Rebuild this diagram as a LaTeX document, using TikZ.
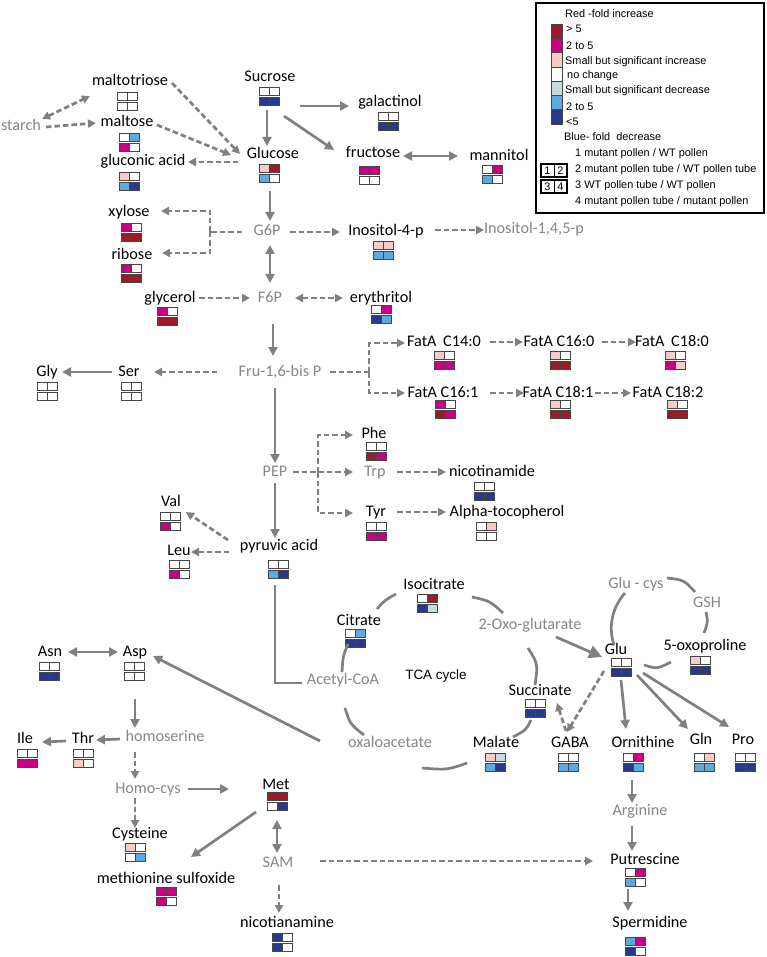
\documentclass[tikz,border=0pt]{standalone}
\usepackage{fontspec}
\setmainfont{Carlito}
\newfontfamily\legfont{Liberation Sans}
\usetikzlibrary{arrows.meta}
\definecolor{dr}{RGB}{155,28,38}
\definecolor{mg}{RGB}{204,0,132}
\definecolor{lp}{RGB}{246,204,198}
\definecolor{w}{RGB}{255,255,255}
\definecolor{lg}{RGB}{198,218,224}
\definecolor{lb}{RGB}{92,170,224}
\definecolor{db}{RGB}{42,56,140}
\definecolor{lc}{RGB}{128,128,128}
\definecolor{gt}{RGB}{135,135,135}
\definecolor{gc}{RGB}{70,70,70}
\tikzset{
  lab/.style={font=\fontsize{16.2}{18}\selectfont, inner sep=0pt, text height=11.5pt, text depth=3.5pt},
  glab/.style={lab, text=gt},
  leg/.style={font=\legfont\fontsize{10.9}{12}\selectfont, inner sep=0pt, anchor=west},
  con/.style={draw=lc, line width=2.7pt},
  arr/.style={con, -{Triangle[length=9pt,width=9pt]}},
  dbl/.style={con, {Triangle[length=9pt,width=9pt]}-{Triangle[length=9pt,width=9pt]}},
  dline/.style={con, dash pattern=on 5.5pt off 3pt},
  darr/.style={dline, -{Triangle[length=8pt,width=8pt]}},
  ddarr/.style={dline, {Triangle[length=8pt,width=8pt]}-{Triangle[length=8pt,width=8pt]}},
  pics/cells/.style n args={4}{code={
     \filldraw[fill=#1,draw=gc,line width=0.9pt] (-10,-9) rectangle (0,-1);
     \filldraw[fill=#2,draw=gc,line width=0.9pt] (0,-9) rectangle (10,-1);
     \filldraw[fill=#3,draw=gc,line width=0.9pt] (-10,1) rectangle (0,9);
     \filldraw[fill=#4,draw=gc,line width=0.9pt] (0,1) rectangle (10,9);
     \coordinate (-n) at (0,-9); \coordinate (-s) at (0,9);
  }},
}
\begin{document}
\begin{tikzpicture}[x=1pt,y=-1pt]
\useasboundingbox (0,0) rectangle (767,957);
\fill[white] (0,0) rectangle (767,957);

% ---------- metabolites ----------
\node[glab] (starch) at (21,127) {starch};
\node[lab] (maltotriose) at (130,82) {maltotriose};
\pic (gmaltotriose) at (127,101) {cells={w}{w}{w}{w}};
\node[lab] (maltose) at (127,123) {maltose};
\pic (gmaltose) at (129,142) {cells={w}{lb}{mg}{w}};
\node[lab] (gluconic) at (143,162) {gluconic acid};
\pic (ggluconic) at (129,181) {cells={lp}{w}{lb}{db}};
\node[lab] (sucrose) at (270,78) {Sucrose};
\pic (gsucrose) at (269,96.5) {cells={w}{w}{db}{db}};
\node[lab] (galactinol) at (390,103) {galactinol};
\pic (ggalactinol) at (388,121) {cells={w}{w}{db}{db}};
\node[lab] (glucose) at (273,155) {Glucose};
\pic (gglucose) at (269,173) {cells={lp}{dr}{lb}{w}};
\node[lab] (fructose) at (373,154) {fructose};
\pic (gfructose) at (369,175.5) {cells={mg}{mg}{w}{w}};
\node[lab] (mannitol) at (499,157) {mannitol};
\pic (gmannitol) at (492,174.5) {cells={w}{mg}{lb}{w}};
\node[glab] (g6p) at (267,232) {G6P};
\node[lab] (inofour) at (386,232) {Inositol-4-p};
\pic (ginofour) at (383,250) {cells={lp}{lp}{lb}{lb}};
\node[glab] (inotri) at (534,230) {Inositol-1,4,5-p};
\node[lab] (xylose) at (129,213) {xylose};
\pic (gxylose) at (131,232) {cells={mg}{w}{dr}{dr}};
\node[lab] (ribose) at (132,256) {ribose};
\pic (gribose) at (131,273.5) {cells={mg}{w}{dr}{dr}};
\node[lab] (glycerol) at (170,298) {glycerol};
\pic (gglycerol) at (167,316) {cells={mg}{w}{dr}{dr}};
\node[glab] (f6p) at (270,298) {F6P};
\node[lab] (erythritol) at (381,298) {erythritol};
\pic (gerythritol) at (381,314.5) {cells={w}{mg}{db}{lb}};
\node[glab] (fru) at (280,372) {Fru-1,6-bis P};
\node[lab] (ser) at (129,372) {Ser};
\pic (gser) at (131,391) {cells={w}{w}{w}{w}};
\node[lab] (gly) at (47,372) {Gly};
\pic (ggly) at (47,391) {cells={w}{w}{w}{w}};
\node[lab] (cfa) at (444,342) {FatA\hspace{3pt} C14:0};
\pic (gcfa) at (444,360) {cells={lp}{w}{mg}{mg}};
\node[lab] (cfb) at (559,342) {FatA C16:0};
\pic (gcfb) at (560,360) {cells={lp}{w}{dr}{dr}};
\node[lab] (cfc) at (672,342) {FatA\hspace{3pt} C18:0};
\pic (gcfc) at (675,360) {cells={lp}{w}{mg}{lp}};
\node[lab] (cfd) at (443,393) {FatA C16:1};
\pic (gcfd) at (445,409.5) {cells={mg}{w}{dr}{mg}};
\node[lab] (cfe) at (558,393) {FatA C18:1};
\pic (gcfe) at (560,409.5) {cells={lp}{w}{dr}{dr}};
\node[lab] (cff) at (668,393) {FatA C18:2};
\pic (gcff) at (677,409) {cells={lp}{w}{dr}{dr}};
\node[glab] (pep) at (275,472) {PEP};
\node[lab] (phe) at (374,434) {Phe};
\pic (gphe) at (376,451) {cells={w}{w}{dr}{mg}};
\node[glab] (trp) at (375,472) {Trp};
\node[lab] (nicotinamide) at (492,472) {nicotinamide};
\pic (gnicotinamide) at (484,491) {cells={w}{w}{db}{db}};
\node[lab] (tyr) at (376,512) {Tyr};
\pic (gtyr) at (376,531) {cells={w}{w}{mg}{mg}};
\node[lab] (alpha) at (507,512) {Alpha-tocopherol};
\pic (galpha) at (486,531) {cells={w}{lp}{w}{w}};
\node[lab] (val) at (171,502) {Val};
\pic (gval) at (170,521.5) {cells={w}{w}{mg}{w}};
\node[lab] (leu) at (179,551) {Leu};
\pic (gleu) at (179,569.5) {cells={w}{w}{mg}{w}};
\node[lab] (pyruvic) at (279,546) {pyruvic acid};
\pic (gpyruvic) at (278,569.5) {cells={w}{w}{lb}{db}};
\node[lab] (asn) at (50,652) {Asn};
\pic (gasn) at (49,671) {cells={w}{w}{db}{db}};
\node[lab] (asp) at (135,652) {Asp};
\pic (gasp) at (134,671) {cells={w}{w}{w}{w}};
\node[lab] (isocitrate) at (434,585) {Isocitrate};
\pic (gisocitrate) at (427,603.5) {cells={w}{dr}{db}{lg}};
\node[lab] (citrate) at (359,621) {Citrate};
\pic (gcitrate) at (355,638.5) {cells={w}{lb}{db}{db}};
\node[glab] (oxoglu) at (530,625) {2-Oxo-glutarate};
\node[glab] (acetyl) at (343,680) {Acetyl-CoA};
\node[font=\legfont\fontsize{13.5}{15}\selectfont, inner sep=0pt] (tca) at (436,676) {TCA cycle};
\node[glab] (oxaloacetate) at (390,743) {oxaloacetate};
\node[lab] (succinate) at (540,691) {Succinate};
\pic (gsuccinate) at (535,708.5) {cells={w}{w}{db}{db}};
\node[lab] (malate) at (496,743) {Malate};
\pic (gmalate) at (495,762.5) {cells={lp}{lg}{lb}{db}};
\node[lab] (gaba) at (570,743) {GABA};
\pic (ggaba) at (568,762.5) {cells={w}{w}{lb}{lb}};
\node[lab] (glu) at (616,650) {Glu};
\pic (gglu) at (621,667) {cells={w}{w}{db}{db}};
\node[glab] (glucys) at (636,584) {Glu - cys};
\node[glab] (gsh) at (707,603) {GSH};
\node[lab] (oxopro) at (705,646) {5-oxoproline};
\pic (goxopro) at (700,665.5) {cells={lp}{w}{db}{db}};
\node[lab] (ornithine) at (643,743) {Ornithine};
\pic (gornithine) at (633,762.5) {cells={w}{mg}{db}{lb}};
\node[lab] (gln) at (701,740) {Gln};
\pic (ggln) at (704,762.5) {cells={w}{lp}{lb}{lb}};
\node[lab] (pro) at (743,740) {Pro};
\pic (gpro) at (745,762.5) {cells={w}{w}{db}{db}};
\node[lab] (ile) at (25,739) {Ile};
\pic (gile) at (27,758.5) {cells={w}{w}{mg}{mg}};
\node[lab] (thr) at (83,739) {Thr};
\pic (gthr) at (83,758.5) {cells={w}{w}{lp}{w}};
\node[glab] (homoserine) at (165,737) {homoserine};
\node[glab] (homocys) at (148,789) {Homo-cys};
\node[lab] (met) at (276,785) {Met};
\pic (gmet) at (277,801.5) {cells={dr}{dr}{w}{db}};
\node[lab] (cysteine) at (140,834) {Cysteine};
\pic (gcysteine) at (135,852.5) {cells={lp}{w}{w}{lb}};
\node[lab] (metsulf) at (166,879) {methionine sulfoxide};
\pic (gmetsulf) at (166,896.5) {cells={mg}{mg}{mg}{w}};
\node[glab] (sam) at (278,863) {SAM};
\node[lab] (nicotianamine) at (287,923) {nicotianamine};
\pic (gnicotianamine) at (282,942.5) {cells={db}{w}{db}{w}};
\node[glab] (arginine) at (640,811) {Arginine};
\node[lab] (putrescine) at (645,860) {Putrescine};
\pic (gputrescine) at (635,877.5) {cells={w}{mg}{lb}{w}};
\node[lab] (spermidine) at (650,923) {Spermidine};
\pic (gspermidine) at (635,946) {cells={lb}{mg}{db}{w}};

% ---------- connectors ----------
\draw[ddarr] (42,119) -- (90,96);
\draw[darr] (46,127) -- (96,123);
\draw[darr] (172,83) -- (240,154);
\draw[darr] (157,125) -- (231,155);
\draw[darr] (238,162) -- (188,162);
\draw[arr] (267,110) -- (267,146);
\draw[arr] (300,106) -- (349,106);
\draw[arr] (284,116) -- (334,150);
\draw[dbl] (403,156) -- (458,156);
\draw[arr] (270,191) -- (270,221);
\draw[dbl] (270,245) -- (270,283);
\draw[dline] (242,232) -- (210,232);
\draw[darr] (210,232) |- (161,211);
\draw[darr] (210,232) |- (162,253);
\draw[darr] (290,232) -- (340,232);
\draw[darr] (435,230) -- (484,230);
\draw[darr] (199,298) -- (250,298);
\draw[ddarr] (295,298) -- (343,298);
\draw[arr] (273,324) -- (273,356);
\draw[darr] (217,372) -- (154,372);
\draw[arr] (112,372) -- (62,372);
\draw[dline] (330,372) -- (369,372);
\draw[darr] (369,372) |- (405,343);
\draw[darr] (369,372) |- (405,393);
\draw[darr] (490,342) -- (523,342);
\draw[darr] (602,342) -- (636,342);
\draw[darr] (490,393) -- (524,393);
\draw[darr] (595,393) -- (631,393);
\draw[arr] (275,388) -- (275,463);
\draw[arr] (275,483) -- (275,538);
\draw[dline] (293,472) -- (318,472);
\draw[darr] (318,472) |- (353,435);
\draw[darr] (318,472) |- (353,513);
\draw[darr] (318,472) -- (353,472);
\draw[darr] (397,472) -- (446,472);
\draw[darr] (397,512) -- (446,512);
\draw[darr] (228,540) -- (186,512);
\draw[darr] (229,552) -- (191,552);
\draw[con] (275,585) -- (275,683) -- (302,683);
\draw[arr] (320,741) -- (153,656);
\draw[dbl] (68,652) -- (118,652);
\draw[arr] (135,699) -- (135,728);
\draw[arr] (120,739) -- (96,740);
\draw[arr] (66,741) -- (42,742);
\draw[darr] (135,752) -- (135,779);
\draw[arr] (188,789) -- (229,789);
\draw[darr] (135,798) -- (135,828);
\draw[arr] (256,812) -- (191,857);
\draw[dbl] (277,820) -- (277,853);
\draw[darr] (279,885) -- (279,913);
\draw[darr] (320,861) -- (593,861);
\draw[darr] (604,671) -- (567,732);
\draw[darr] (566,731) -- (557,703);
\draw[con, -{Triangle[length=13pt,width=13pt]}] (556,637) -- (602,657);
\draw[arr] (621,680) -- (626,729);
\draw[arr] (637,675) -- (688,729);
\draw[arr] (643,673) -- (729,727);
\draw[arr] (632,780) -- (632,803);
\draw[arr] (632,826) -- (632,851);
\draw[arr] (628,889) -- (628,911);

% ---------- cycles ----------
\draw[con] (377,609) .. controls (385,600) .. (396,594);
\draw[con] (472,597) .. controls (490,601) .. (503,613);
\draw[con] (528,648) .. controls (538,664) .. (535,685);
\draw[con] (531,720) .. controls (526,730) .. (513,737);
\draw[con] (467,763) .. controls (447,770) .. (422,768);
\draw[con] (364,735) .. controls (350,724) .. (345,708);
\draw[con] (348,644) .. controls (343,656) .. (342,672);
\draw[con] (625,593) .. controls (610,610) and (609,630) .. (614,645);
\draw[con] (667,578) .. controls (684,580) .. (695,592);
\draw[con] (706,612) .. controls (708,622) .. (704,633);
\draw[con] (671,662) .. controls (657,669) .. (644,665);

% ---------- legend ----------
\draw[line width=1.9pt] (536,3) rectangle (764,213);
\foreach \c [count=\i from 0] in {dr,mg,lp,w,lg,lb,db}
  \filldraw[fill=\c, draw=gc, line width=0.6pt] (551,{24+14.3*\i}) rectangle (562,{38.3+14.3*\i});
\node[leg] (lga) at (565,14) {Red -fold increase};
\node[leg] (lgb) at (566,29) {> 5};
\node[leg] (lgc) at (566,46) {2 to 5};
\node[leg] (lgd) at (565,62) {Small but significant increase};
\node[leg] (lge) at (567,76) {no change};
\node[leg] (lgf) at (565,91) {Small but significant decrease};
\node[leg] (lgg) at (566,107) {2 to 5};
\node[leg] (lgh) at (566,122) {<5};
\node[leg] (lgi) at (564,137) {Blue- fold\ \ decrease};
\node[leg] (lgj) at (575,154) {1 mutant pollen / WT pollen};
\node[leg] (lgk) at (575,170) {2 mutant pollen tube / WT pollen tube};
\node[leg] (lgl) at (575,186) {3 WT pollen tube / WT pollen};
\node[leg] (lgm) at (575,202) {4 mutant pollen tube / mutant pollen};
\draw[line width=1.3pt] (541,164) rectangle (567,177);
\draw[line width=1pt] (554,164) -- (554,177);
\draw[line width=1.3pt] (541,180) rectangle (567,193);
\draw[line width=1pt] (554,180) -- (554,193);
\node[leg, anchor=center] (ka) at (547.5,170.5) {1};
\node[leg, anchor=center] (kb) at (560.5,170.5) {2};
\node[leg, anchor=center] (kc) at (547.5,186.5) {3};
\node[leg, anchor=center] (kd) at (560.5,186.5) {4};
\end{tikzpicture}
\end{document}
